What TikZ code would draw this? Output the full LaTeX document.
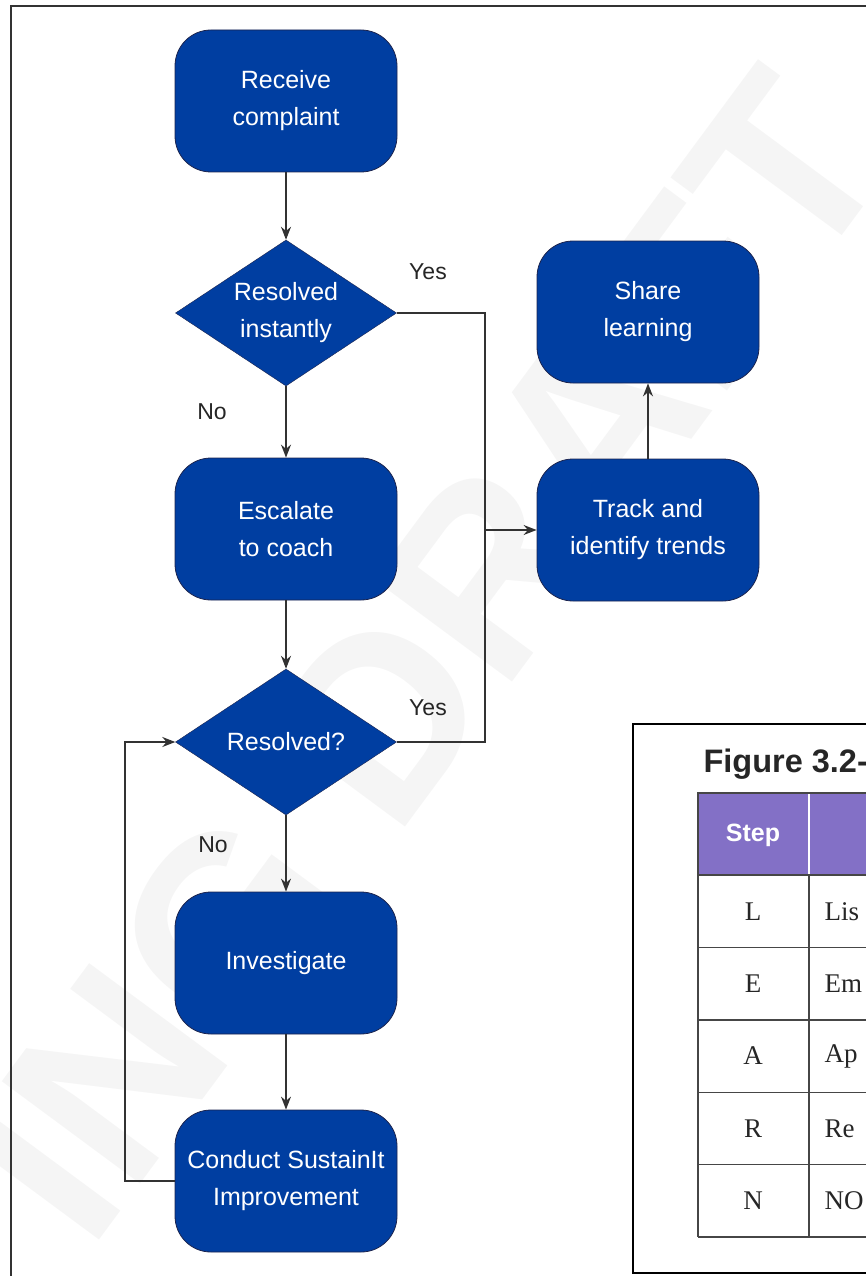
\documentclass[tikz,border=0pt]{standalone}
\usepackage{fontspec}
\setmainfont{Liberation Sans}
\newfontfamily\tblserif{Liberation Serif}
\usetikzlibrary{arrows.meta,shapes.geometric}

\definecolor{flowblue}{RGB}{0,62,161}
\definecolor{flowedge}{RGB}{28,36,78}
\definecolor{linegray}{RGB}{50,50,50}
\definecolor{hdrpurple}{RGB}{131,112,198}
\definecolor{gridgray}{RGB}{70,70,70}

\newcommand{\flowfont}{\fontsize{25}{37}\selectfont}
\newcommand{\ansfont}{\fontsize{23}{23}\selectfont}

\tikzset{
  procbox/.style={draw=flowedge,fill=flowblue,text=white,rounded corners=36pt,
    minimum width=222pt,minimum height=142pt,align=center,font=\flowfont,line width=0.8pt},
  decision/.style={diamond,aspect=1.5,draw=flowedge,fill=flowblue,text=white,inner sep=0pt,
    minimum width=221pt,minimum height=146pt,align=center,font=\flowfont},
  flow/.style={draw=linegray,line width=1.4pt,-{Stealth[length=13pt,width=10pt]}},
  plain/.style={draw=linegray,line width=1.4pt},
  answer/.style={font=\ansfont,text=black!85},
}

\begin{document}
\begin{tikzpicture}[x=1pt,y=-1pt]
  \useasboundingbox (0,0) rectangle (865,1276);
  % watermark
  \node[rotate=53.5,text=black!4,font=\fontsize{250}{250}\selectfont\bfseries] (wmark) at (425,655) {ING DRAFT};
  % page frame
  \draw[line width=1.6pt,black!80] (900,6) -- (11,6) -- (11,1300);

  % flow chart
  \node[procbox] (recv) at (286,101) {Receive\\complaint};
  \node[decision] (instant) at (286,313) {Resolved\\instantly};
  \node[procbox] (escal) at (286,529) {Escalate\\to coach};
  \node[decision] (resolved) at (286,742) {Resolved?};
  \node[procbox] (invest) at (286,963) {Investigate};
  \node[procbox] (sustain) at (286,1181) {Conduct SustainIt\\Improvement};
  \node[procbox] (share) at (648,312) {Share\\learning};
  \node[procbox] (track) at (648,530) {Track and\\identify trends};

  \node[answer] (yes1) at (428,272) {Yes};
  \node[answer] (no1) at (212,412) {No};
  \node[answer] (yes2) at (428,708) {Yes};
  \node[answer] (no2) at (213,845) {No};

  \coordinate (merge) at (485,530);
  \coordinate (loop) at (125,742);

  \draw[flow] (recv) -- (instant);
  \draw[flow] (instant) -- (escal);
  \draw[flow] (escal) -- (resolved);
  \draw[flow] (resolved) -- (invest);
  \draw[flow] (invest) -- (sustain);
  \draw[plain] (instant.east) -| (merge);
  \draw[plain] (resolved.east) -| (merge);
  \draw[flow] (merge) -- (track);
  \draw[flow] (track) -- (share);
  \draw[flow] (sustain.west) -| (loop) -- (resolved.west);

  % table box
  \draw[line width=1.6pt] (900,724) -- (633,724) -- (633,1273) -- (900,1273);
  \node[anchor=base west,font=\fontsize{32.5}{33}\selectfont\bfseries,text=black!85] (figttl) at (700,772) {Figure 3.2-};
  \fill[hdrpurple] (698,793) rectangle (900,875);
  \draw[white,line width=1.2pt] (809,793) -- (809,875);
  \node[font=\bfseries\fontsize{25}{25}\selectfont,text=white] (stephdr) at (753,835) {Step};
  \draw[gridgray,line width=1.4pt] (900,793) -- (698,793) -- (698,1237);
  \draw[gridgray,line width=1.4pt] (809,875) -- (809,1237);
  \draw[gridgray,line width=1.4pt] (698,875) -- (900,875);
  \foreach \ltr/\wrd [count=\i] in {L/Lis,E/Em,A/Ap,R/Re,N/NO}{
    \pgfmathsetmacro{\rowy}{875+72.4*(\i-0.5)}
    \node[font=\tblserif\fontsize{27}{27}\selectfont,text=black!85] (step\i) at (753,\rowy) {\ltr};
    \node[anchor=west,font=\tblserif\fontsize{27}{27}\selectfont,text=black!85] (word\i) at (821,\rowy) {\wrd};
  }
  \foreach \i in {1,...,4}{
    \draw[gridgray,line width=1.4pt] (698,875+72.4*\i) -- (900,875+72.4*\i);
  }
  \draw[gridgray,line width=2.6pt] (698,1237) -- (900,1237);
\end{tikzpicture}
\end{document}
